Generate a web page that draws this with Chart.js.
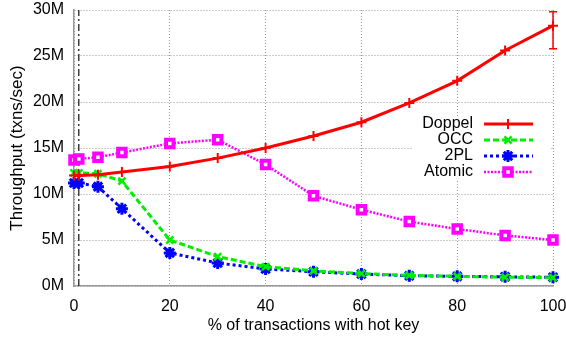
<!DOCTYPE html>
<html lang="en">
  <head>
    <meta charset="UTF-8" />
    <title>Throughput vs hot key</title>
    <script src="https://cdn.jsdelivr.net/npm/chart.js"></script>
    <style>
      html, body { margin: 0; padding: 0; background: #fff; }
      #wrap { width: 566px; height: 339px; }
    </style>
  </head>
  <body>
    <div id="wrap"><canvas id="myChart" width="566" height="339"></canvas></div>

    <script>
      // % of transactions touching the hot key
      const hotPct = [0, 1, 5, 10, 20, 30, 40, 50, 60, 70, 80, 90, 100];

      // throughput, millions of txns/sec
      const doppel = [12.0, 12.0, 12.1, 12.4, 13.0, 13.9, 15.0, 16.3, 17.8, 19.9, 22.3, 25.6, 28.3];
      const occ = [12.3, 12.3, 12.2, 11.4, 5.0, 3.2, 2.1, 1.65, 1.35, 1.15, 1.05, 0.95, 0.9];
      const twoPL = [11.2, 11.2, 10.8, 8.4, 3.6, 2.5, 1.85, 1.55, 1.3, 1.12, 1.05, 1.0, 0.95];
      const atomic = [13.7, 13.8, 14.0, 14.5, 15.5, 15.9, 13.2, 9.8, 8.3, 7.0, 6.2, 5.5, 5.0];

      // error bar on the last Doppel point
      const doppelErrLow = [null, null, null, null, null, null, null, null, null, null, null, null, 25.8];
      const doppelErrHigh = [null, null, null, null, null, null, null, null, null, null, null, null, 29.8];

      const yTicks = [0, 5, 10, 15, 20, 25, 30];
      const xTicks = [0, 20, 40, 60, 80, 100];
      const markerLineAt = 1;

      const FONT = "'Liberation Sans', Arial, Helvetica, sans-serif";

      const toPts = (arr) => arr.map((v, i) => ({ x: hotPct[i], y: v * 1e6 }));

      const series = [
        { label: 'Doppel', data: doppel, color: '#ff0000', dash: [], width: 3, point: 'cross', radius: 5, pw: 2 },
        { label: 'OCC', data: occ, color: '#00ee00', dash: [6, 3], width: 3, point: 'crossRot', radius: 5, pw: 2.5 },
        { label: '2PL', data: twoPL, color: '#0000ff', dash: [3, 3], width: 3, point: 'star', radius: 6, pw: 3 },
        { label: 'Atomic', data: atomic, color: '#ff00ff', dash: [2, 1.5], width: 2.5, point: 'rect', radius: 5.3, pw: 4 },
      ];

      function marker(ctx, style, x, y, r, color, lw) {
        ctx.save();
        ctx.strokeStyle = color;
        ctx.lineWidth = lw;
        ctx.setLineDash([]);
        ctx.beginPath();
        if (style === 'cross' || style === 'star') {
          ctx.moveTo(x - r, y); ctx.lineTo(x + r, y);
          ctx.moveTo(x, y - r); ctx.lineTo(x, y + r);
        }
        if (style === 'crossRot' || style === 'star') {
          const d = r * Math.SQRT1_2;
          ctx.moveTo(x - d, y - d); ctx.lineTo(x + d, y + d);
          ctx.moveTo(x - d, y + d); ctx.lineTo(x + d, y - d);
        }
        if (style === 'rect') {
          const s = r * Math.SQRT1_2;
          ctx.fillStyle = '#fff';
          ctx.rect(x - s, y - s, 2 * s, 2 * s);
          ctx.fill();
        }
        ctx.stroke();
        ctx.restore();
      }

      // dash-dot reference line, error bar and the boxed legend
      const extras = {
        id: 'extras',
        beforeDatasetsDraw(chart) {
          const { ctx, chartArea, scales } = chart;
          const px = scales.x.getPixelForValue(markerLineAt);
          ctx.save();
          ctx.strokeStyle = '#222';
          ctx.lineWidth = 1.3;
          ctx.setLineDash([7, 3, 2, 3]);
          ctx.beginPath();
          ctx.moveTo(px, chartArea.bottom);
          ctx.lineTo(px, chartArea.top);
          ctx.stroke();
          ctx.restore();
        },
        afterDatasetsDraw(chart) {
          const { ctx, scales } = chart;
          ctx.save();
          ctx.strokeStyle = '#ff0000';
          ctx.lineWidth = 1.5;
          ctx.setLineDash([]);
          doppelErrLow.forEach((lo, i) => {
            if (lo === null) return;
            const x = scales.x.getPixelForValue(hotPct[i]);
            const y0 = scales.y.getPixelForValue(lo * 1e6);
            const y1 = scales.y.getPixelForValue(doppelErrHigh[i] * 1e6);
            ctx.beginPath();
            ctx.moveTo(x, y0); ctx.lineTo(x, y1);
            ctx.moveTo(x - 4, y0); ctx.lineTo(x + 4, y0);
            ctx.moveTo(x - 4, y1); ctx.lineTo(x + 4, y1);
            ctx.stroke();
          });
          ctx.restore();
        },
        afterDraw(chart) {
          const { ctx } = chart;
          ctx.save();
          ctx.fillStyle = '#fff';
          ctx.fillRect(413, 116, 137, 65);
          ctx.font = '16px ' + FONT;
          ctx.textAlign = 'right';
          ctx.textBaseline = 'middle';
          series.forEach((s, i) => {
            const y = 124 + i * 16;
            ctx.fillStyle = '#000';
            ctx.fillText(s.label, 473, y);
            ctx.strokeStyle = s.color;
            ctx.lineWidth = s.width;
            ctx.setLineDash(s.dash);
            ctx.beginPath();
            ctx.moveTo(484, y);
            ctx.lineTo(533, y);
            ctx.stroke();
            marker(ctx, s.point, 508, y, s.radius, s.color, s.pw);
          });
          ctx.restore();
        },
      };

      Chart.defaults.font.family = FONT;
      Chart.defaults.font.size = 16;
      Chart.defaults.color = '#000';

      const ctx = document.getElementById('myChart').getContext('2d');
      new Chart(ctx, {
        type: 'line',
        plugins: [extras],
        data: {
          datasets: series.map((s) => ({
            label: s.label,
            data: toPts(s.data),
            borderColor: s.color,
            backgroundColor: s.color,
            borderWidth: s.width,
            borderDash: s.dash,
            pointStyle: s.point,
            pointRadius: s.radius,
            pointBorderWidth: s.pw,
            pointBorderColor: s.color,
            pointBackgroundColor: s.point === 'rect' ? '#fff' : s.color,
            tension: 0,
            fill: false,
            clip: false,
          })),
        },
        options: {
          responsive: false,
          animation: false,
          events: [],
          layout: { padding: { top: 2, right: 0, left: 0, bottom: 0 } },
          plugins: { legend: { display: false }, tooltip: { enabled: false } },
          scales: {
            x: {
              type: 'linear',
              min: 0,
              max: 100,
              afterFit: (scale) => { scale.height = 53; scale.paddingRight = 13; },
              afterBuildTicks: (scale) => { scale.ticks = xTicks.map((v) => ({ value: v })); },
              grid: { color: '#999', lineWidth: 1, drawTicks: false },
              border: { color: '#999', width: 1.5, dash: [1, 2] },
              ticks: { padding: 11, maxRotation: 0 },
              title: { display: true, text: '% of transactions with hot key', padding: { top: 1 } },
            },
            y: {
              type: 'linear',
              min: 0,
              max: 30e6,
              afterFit: (scale) => { scale.width = 74; scale.paddingTop = 10; },
              afterBuildTicks: (scale) => { scale.ticks = yTicks.map((v) => ({ value: v * 1e6 })); },
              grid: { color: '#999', lineWidth: 1, drawTicks: false },
              border: { color: '#999', width: 1.5, dash: [1, 2] },
              ticks: { padding: 10, callback: (v) => v / 1e6 + 'M' },
              title: { display: true, text: 'Throughput (txns/sec)', font: { size: 17 }, padding: { top: 7, bottom: 0 } },
            },
          },
        },
      });
    </script>
  </body>
</html>
